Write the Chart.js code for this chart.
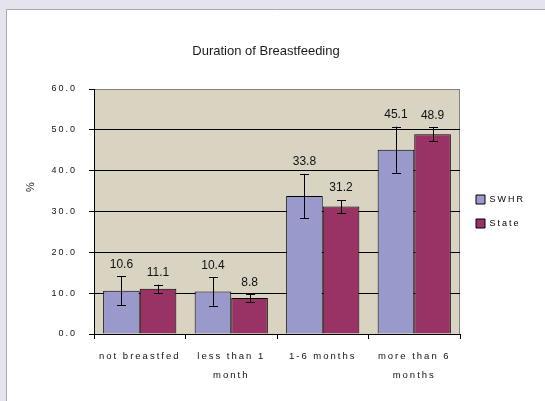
<!DOCTYPE html>
<html><head><meta charset="utf-8">
<script src="https://cdn.jsdelivr.net/npm/chart.js@4/dist/chart.umd.min.js"></script>
<style>html,body{margin:0;padding:0;background:#e4e4ee;}#wrap{width:545px;height:401px;}</style>
</head><body><div id="wrap"><canvas id="c" width="545" height="401"></canvas></div>
<script>
const categories = [["not breastfed"], ["less than 1", "month"], ["1-6 months"], ["more than 6", "months"]];
const swhrValues = [10.6, 10.4, 33.8, 45.1];
const stateValues = [11.1, 8.8, 31.2, 48.9];
const swhrErr = [3.5, 3.5, 5.4, 5.7];
const stateErr = [1.0, 0.9, 1.6, 1.7];
const seriesNames = ["SWHR", "State"];
const titleText = "Duration of Breastfeeding";
const yTitle = "%";

const errs = [swhrErr, stateErr];
const SP = '2px';

const deco = {
  id: 'deco',
  beforeUpdate(chart) { chart.ctx.letterSpacing = SP; },
  beforeLayout(chart) { chart.ctx.letterSpacing = SP; },
  afterLayout(chart) {
    const lg = chart.legend, a = chart.chartArea;
    if (lg) { lg.bottom = a.bottom; lg.height = lg.bottom - lg.top; lg.left += 1; lg.right += 1; }
  },
  beforeDraw(chart) {
    const ctx = chart.ctx, a = chart.chartArea;
    ctx.save();
    ctx.fillStyle = '#e4e4ee';
    ctx.fillRect(0, 0, chart.width, chart.height);
    ctx.fillStyle = '#ffffff';
    ctx.fillRect(6, 9, chart.width, chart.height);
    ctx.strokeStyle = '#a8a8b0';
    ctx.lineWidth = 1;
    ctx.beginPath();
    ctx.moveTo(6.5, chart.height); ctx.lineTo(6.5, 9.5); ctx.lineTo(chart.width, 9.5);
    ctx.stroke();
    ctx.fillStyle = '#d9d3c1';
    ctx.fillRect(a.left, a.top, a.right - a.left, a.bottom - a.top);
    ctx.strokeStyle = '#808080';
    ctx.beginPath();
    ctx.moveTo(a.left, a.top + 0.5); ctx.lineTo(a.right - 0.5, a.top + 0.5); ctx.lineTo(a.right - 0.5, a.bottom);
    ctx.stroke();
    ctx.restore();
    ctx.letterSpacing = SP;
  },
  afterDatasetsDraw(chart) {
    const ctx = chart.ctx, ys = chart.scales.y;
    ctx.save();
    ctx.letterSpacing = '0px';
    chart.data.datasets.forEach((ds, di) => {
      const meta = chart.getDatasetMeta(di);
      meta.data.forEach((bar, i) => {
        const v = ds.data[i], e = errs[di][i];
        const yt = ys.getPixelForValue(v + e), yb = ys.getPixelForValue(v - e);
        const x = Math.round(bar.x) + 0.5, cw = 4.5;
        ctx.strokeStyle = '#000'; ctx.lineWidth = 1;
        ctx.beginPath();
        ctx.moveTo(x, yt); ctx.lineTo(x, yb);
        ctx.moveTo(x - cw, Math.round(yt) + 0.5); ctx.lineTo(x + cw, Math.round(yt) + 0.5);
        ctx.moveTo(x - cw, Math.round(yb) + 0.5); ctx.lineTo(x + cw, Math.round(yb) + 0.5);
        ctx.stroke();
        ctx.fillStyle = '#111';
        ctx.font = '12px "Liberation Sans", Arial, sans-serif';
        ctx.textAlign = 'center'; ctx.textBaseline = 'middle';
        ctx.fillText(v.toFixed(1), bar.x, yt - 12);
      });
    });
    ctx.restore();
  },
  afterDraw(chart) {
    const ctx = chart.ctx;
    ctx.save();
    ctx.letterSpacing = '0px';
    ctx.fillStyle = '#1a1a1a';
    ctx.font = '13px "Liberation Sans", Arial, sans-serif';
    ctx.textAlign = 'center'; ctx.textBaseline = 'middle';
    ctx.fillText(titleText, 266, 51);
    ctx.translate(31, 187);
    ctx.rotate(-Math.PI / 2);
    ctx.font = '11px "Liberation Sans", Arial, sans-serif';
    ctx.fillText(yTitle, 0, 0);
    ctx.restore();
  }
};

new Chart(document.getElementById('c'), {
  type: 'bar',
  data: {
    labels: categories,
    datasets: [
      { label: seriesNames[0], data: swhrValues, backgroundColor: '#9999cc', borderColor: '#000', borderWidth: 1, borderSkipped: 'bottom' },
      { label: seriesNames[1], data: stateValues, backgroundColor: '#993366', borderColor: '#000', borderWidth: 1, borderSkipped: 'bottom' }
    ]
  },
  options: {
    responsive: false,
    animation: false,
    devicePixelRatio: 1,
    layout: { padding: { top: 89, left: 0, right: 11, bottom: 8 } },
    datasets: { bar: { categoryPercentage: 0.8, barPercentage: 1.0 } },
    plugins: {
      title: { display: false },
      tooltip: { enabled: false },
      legend: {
        position: 'right',
        labels: {
          boxWidth: 9, boxHeight: 9, padding: 15, color: '#111',
          font: { family: '"Liberation Sans", Arial, sans-serif', size: 9 },
          generateLabels(chart) {
            return chart.data.datasets.map((d, i) => ({
              text: d.label, fillStyle: d.backgroundColor, strokeStyle: '#000', lineWidth: 1, datasetIndex: i, hidden: false
            }));
          }
        }
      }
    },
    scales: {
      x: {
        grid: { display: true, drawOnChartArea: false, drawTicks: true, tickLength: 5, color: '#000', offset: true },
        border: { display: true, color: '#000' },
        ticks: { color: '#111', padding: 8, maxRotation: 0, autoSkip: false,
          font: { family: '"Liberation Sans", Arial, sans-serif', size: 9.5, lineHeight: 2.0 } }
      },
      y: {
        min: 0, max: 60,
        afterFit(s) { s.width = 94; },
        grid: { color: (c) => c.tick && c.tick.value === 60 ? '#808080' : '#000', tickLength: 5, tickColor: '#000' },
        border: { display: true, color: '#000' },
        ticks: { stepSize: 10, color: '#111', padding: 12, callback: (v) => Number(v).toFixed(1),
          font: { family: '"Liberation Sans", Arial, sans-serif', size: 9 } }
      }
    }
  },
  plugins: [deco]
});
</script>
</body></html>
